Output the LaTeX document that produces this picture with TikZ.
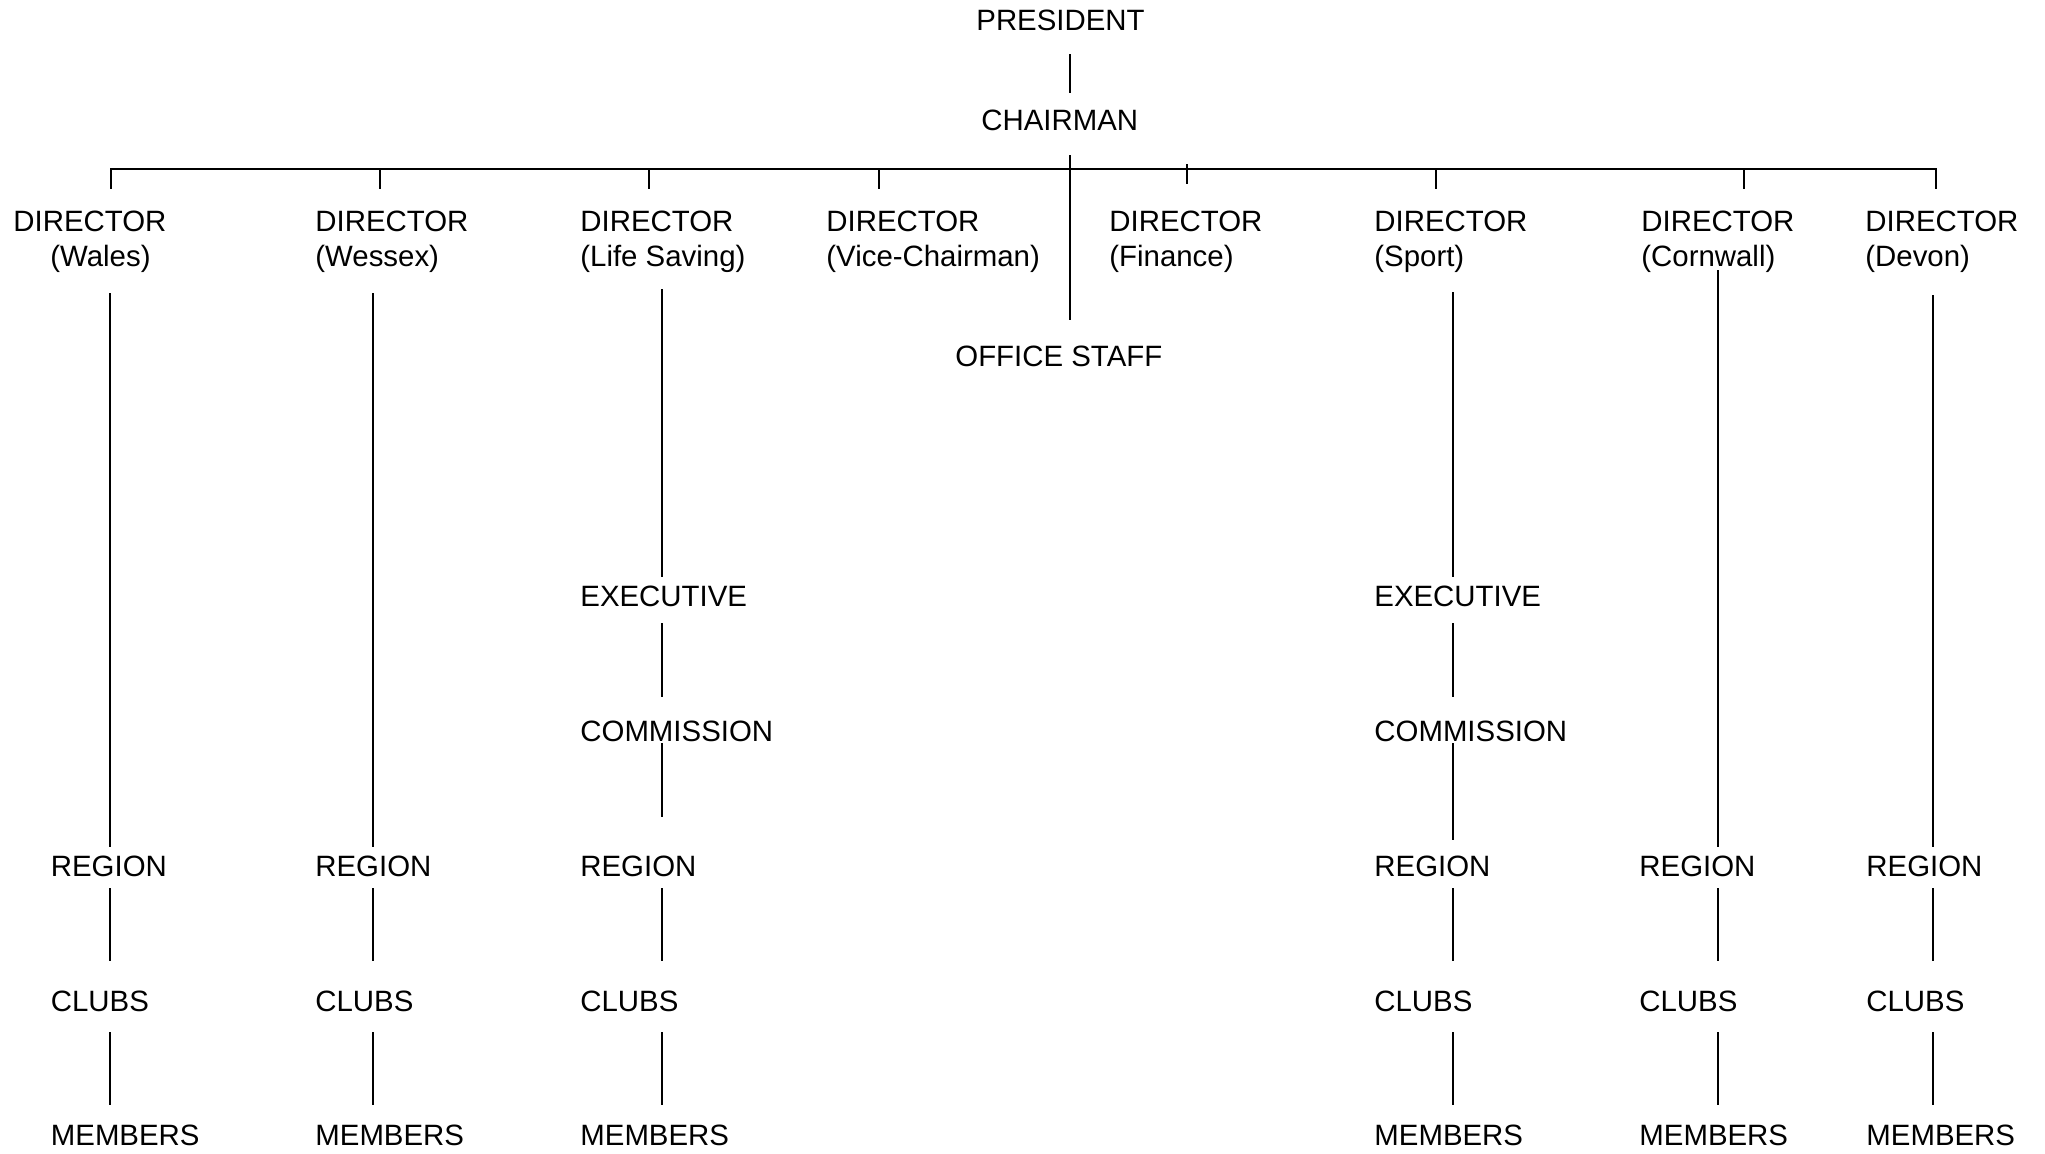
\documentclass[tikz,border=0pt]{standalone}
\usepackage{fontspec}
\setmainfont{Liberation Sans}
\begin{document}
\begin{tikzpicture}[x=0.5pt,y=-0.5pt,
  txt/.style={font=\fontsize{14.7}{17.3}\selectfont, inner sep=0pt},
  lbl/.style={txt, anchor=base west, text height=10.5pt, text depth=0pt},
  dir/.style={txt, anchor=north west, align=left},
  link/.style={line width=1pt},
  gaps/.style 2 args={link, shorten <=#1pt, shorten >=#2pt}]
\fill[white] (0,0) rectangle (2045,1153);
\useasboundingbox (0,0) rectangle (2045,1153);

% column and tick x positions
\coordinate (cW) at (109.5,0);  \coordinate (cWx) at (373,0);
\coordinate (cLS) at (662,0);   \coordinate (cS) at (1453,0);
\coordinate (cC) at (1718,0);   \coordinate (cD) at (1933,0);
\coordinate (tW) at (111,0);    \coordinate (tWx) at (380,0);
\coordinate (tLS) at (648.5,0); \coordinate (tV) at (879,0);
\coordinate (tF) at (1187,0);   \coordinate (tS) at (1436,0);
\coordinate (tCo) at (1743.5,0);\coordinate (tD) at (1935.5,0);
\coordinate (bus) at (1069.5,168.5);

% top
\node[lbl] (pres) at (976,30) {PRESIDENT};
\node[lbl] (chair) at (981,130.5) {CHAIRMAN};
\node[lbl] (office) at (955,366) {OFFICE STAFF};

% directors
\node[dir] (dW) at (13,211) {DIRECTOR\\\hspace*{18.5pt}(Wales)};
\node[dir] (dWx) at (315,211) {DIRECTOR\\(Wessex)};
\node[dir] (dLS) at (580,211) {DIRECTOR\\(Life Saving)};
\node[dir] (dV) at (826,211) {DIRECTOR\\(Vice-Chairman)};
\node[dir] (dF) at (1109,211) {DIRECTOR\\(Finance)};
\node[dir] (dS) at (1374,211) {DIRECTOR\\(Sport)};
\node[dir] (dC) at (1641,211) {DIRECTOR\\(Cornwall)};
\node[dir] (dD) at (1865,211) {DIRECTOR\\(Devon)};

% executive / commission
\node[lbl] (eLS) at (580,606) {EXECUTIVE};
\node[lbl] (eS) at (1374,606) {EXECUTIVE};
\node[lbl] (mLS) at (580,741) {COMMISSION};
\node[lbl] (mS) at (1374,741) {COMMISSION};

% regions
\node[lbl] (rW) at (50.5,876) {REGION};
\node[lbl] (rWx) at (315,876) {REGION};
\node[lbl] (rLS) at (580,876) {REGION};
\node[lbl] (rS) at (1374,876) {REGION};
\node[lbl] (rC) at (1639,876) {REGION};
\node[lbl] (rD) at (1866,876) {REGION};
% clubs
\node[lbl] (kW) at (50.5,1011) {CLUBS};
\node[lbl] (kWx) at (315,1011) {CLUBS};
\node[lbl] (kLS) at (580,1011) {CLUBS};
\node[lbl] (kS) at (1374,1011) {CLUBS};
\node[lbl] (kC) at (1639,1011) {CLUBS};
\node[lbl] (kD) at (1866,1011) {CLUBS};
% members
\node[lbl] (uW) at (50.5,1145) {MEMBERS};
\node[lbl] (uWx) at (315,1145) {MEMBERS};
\node[lbl] (uLS) at (580,1145) {MEMBERS};
\node[lbl] (uS) at (1374,1145) {MEMBERS};
\node[lbl] (uC) at (1639,1145) {MEMBERS};
\node[lbl] (uD) at (1866,1145) {MEMBERS};

% top connectors
\draw[gaps={12}{8.25}] (pres.south -| bus) -- (chair.north -| bus);
\draw[gaps={12.25}{12.5}] (chair.south -| bus) -- (office.north -| bus);

% bus and ticks
\draw[link] ([yshift=11.25pt]dW.north -| tW) |- (bus) -| ([yshift=11.25pt]dD.north -| tD);
\draw[link] (bus -| tWx) -- ([yshift=11.25pt]dWx.north -| tWx);
\draw[link] (bus -| tLS) -- ([yshift=11.25pt]dLS.north -| tLS);
\draw[link] (bus -| tV) -- ([yshift=11.25pt]dV.north -| tV);
\draw[link] ([yshift=23.5pt]dF.north -| tF) -- ([yshift=13.5pt]dF.north -| tF);
\draw[link] (bus -| tS) -- ([yshift=11.25pt]dS.north -| tS);
\draw[link] (bus -| tCo) -- ([yshift=11.25pt]dC.north -| tCo);

% director to region / executive
\draw[gaps={41}{4}] (dW.north -| cW) -- (rW.north -| cW);
\draw[gaps={41}{4}] (dWx.north -| cWx) -- (rWx.north -| cWx);
\draw[gaps={29.5}{4}] (dC.north -| cC) -- (rC.north -| cC);
\draw[gaps={42}{4}] (dD.north -| cD) -- (rD.north -| cD);
\draw[gaps={39}{4}] (dLS.north -| cLS) -- (eLS.north -| cLS);
\draw[gaps={40.5}{4}] (dS.north -| cS) -- (eS.north -| cS);

% executive -> commission -> region
\draw[gaps={8.5}{11.5}] (eLS.south -| cLS) -- (mLS.north -| cLS);
\draw[gaps={8.5}{11.5}] (eS.south -| cS) -- (mS.north -| cS);
\draw[gaps={1}{19}] (mLS.south -| cLS) -- (rLS.north -| cLS);
\draw[gaps={1}{7.5}] (mS.south -| cS) -- (rS.north -| cS);

% region -> clubs -> members
\foreach \n/\c in {W/cW, Wx/cWx, LS/cLS, S/cS, C/cC, D/cD}{
  \draw[gaps={6}{14.5}] (r\n.south -| \c) -- (k\n.north -| \c);
  \draw[gaps={10.5}{9.5}] (k\n.south -| \c) -- (u\n.north -| \c);
}
\end{tikzpicture}
\end{document}
